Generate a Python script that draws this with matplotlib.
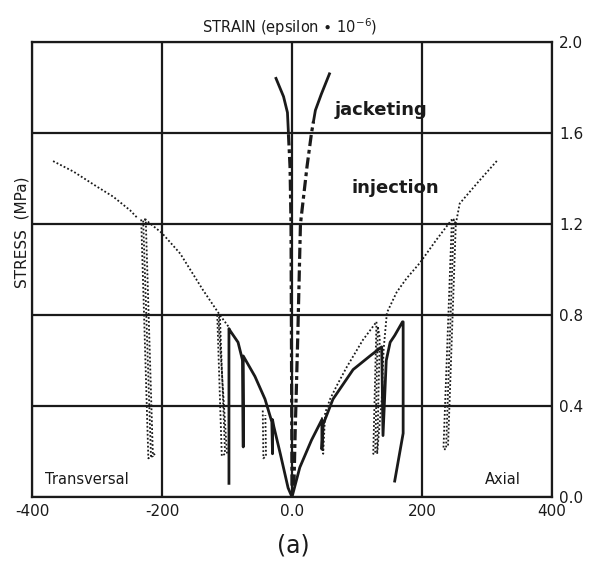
import matplotlib
matplotlib.use("Agg")
from matplotlib import pyplot as plt

# jacketing (dash-dot low part, solid top part)
jack_l_x = [0, -1, -1.5, -3, -5.5]
jack_l_y = [0.05, 0.8, 1.2, 1.45, 1.6]
jack_l_top_x = [-5.5, -7, -13, -24.6]
jack_l_top_y = [1.6, 1.69, 1.76, 1.84]
jack_r_x = [3, 5, 6, 9, 13, 17, 23, 30, 33]
jack_r_y = [0.05, 0.3, 0.4, 0.72, 1.2, 1.3, 1.45, 1.6, 1.65]
jack_r_top_x = [33, 36, 45, 57.6]
jack_r_top_y = [1.65, 1.70, 1.77, 1.86]

# solid curves with unloading loops
wall_l_x = [0, -6, -18, -28, -30, -30, -31, -41.5, -57, -75, -75, -76, -83, -95, -97, -97]
wall_l_y = [0.0, 0.04, 0.19, 0.31, 0.34, 0.19, 0.33, 0.43, 0.53, 0.62, 0.22, 0.60, 0.68, 0.73, 0.74, 0.06]
wall_r_x = [0, 12, 30, 46, 46, 48, 63, 94, 120, 138, 140, 145, 151, 158, 170, 171, 171, 158]
wall_r_y = [0.0, 0.13, 0.25, 0.34, 0.21, 0.32, 0.43, 0.56, 0.62, 0.66, 0.27, 0.60, 0.68, 0.71, 0.77, 0.77, 0.28, 0.07]

# injection, dotted
inj_l_env_x = [-98, -111, -137, -172, -200, -226]
inj_l_env_y = [0.75, 0.80, 0.91, 1.07, 1.16, 1.22]
inj_l_out_x = [-239, -249, -275, -300, -336, -370]
inj_l_out_y = [1.23, 1.26, 1.32, 1.364, 1.43, 1.48]
inj_l_loop1_x = [-232, -221, -214, -225, -229, -217, -210]
inj_l_loop1_y = [1.22, 0.17, 0.18, 1.22, 1.22, 0.18, 0.19]
inj_l_loop2_x = [-115, -108, -103, -111, -113, -100]
inj_l_loop2_y = [0.80, 0.18, 0.19, 0.80, 0.78, 0.19]
inj_l_loop3_x = [-45, -44, -40, -41]
inj_l_loop3_y = [0.38, 0.17, 0.18, 0.36]

inj_r_in_x = [46, 48, 51, 58.5, 69, 84, 109, 130]
inj_r_in_y = [0.35, 0.19, 0.37, 0.43, 0.49, 0.57, 0.69, 0.77]
inj_r_loop1_x = [130, 125, 128, 132, 135, 131]
inj_r_loop1_y = [0.77, 0.19, 0.19, 0.75, 0.70, 0.19]
inj_r_out_x = [131, 138, 141, 146, 161, 176, 197, 222, 246]
inj_r_out_y = [0.19, 0.43, 0.65, 0.81, 0.90, 0.96, 1.03, 1.13, 1.22]
inj_r_loop2_x = [246, 233, 237, 249, 252, 240]
inj_r_loop2_y = [1.22, 0.21, 0.21, 1.22, 1.20, 0.22]
inj_r_out2_x = [252, 258, 285, 316]
inj_r_out2_y = [1.20, 1.29, 1.38, 1.48]

x_ticks = [-400, -200, 0, 200, 400]
x_labels = ['-400', '-200', '0.0', '200', '400']
y_ticks = [0.0, 0.4, 0.8, 1.2, 1.6, 2.0]
y_labels = ['0.0', '0.4', '0.8', '1.2', '1.6', '2.0']

ink = '#1a1a1a'
fig = plt.figure(figsize=(5.89, 5.80), dpi=100)
ax = fig.add_axes([32 / 589, 83 / 580, 520 / 589, 455 / 580])

dashdot = (0, (3.5, 1.2, 1.2, 1.2))
ax.plot(jack_l_x, jack_l_y, ls=dashdot, color=ink, lw=2.3)
ax.plot(jack_l_top_x, jack_l_top_y, '-', color=ink, lw=2)
ax.plot(jack_r_x, jack_r_y, ls=dashdot, color=ink, lw=2.3)
ax.plot(jack_r_top_x, jack_r_top_y, '-', color=ink, lw=2)

ax.plot(wall_l_x, wall_l_y, '-', color=ink, lw=2)
ax.plot(wall_r_x, wall_r_y, '-', color=ink, lw=2)

dots = dict(ls=(0, (1, 1.2)), color=ink, lw=1.3)
for xs, ys in [(inj_l_env_x, inj_l_env_y), (inj_l_out_x, inj_l_out_y),
               (inj_l_loop1_x, inj_l_loop1_y), (inj_l_loop2_x, inj_l_loop2_y),
               (inj_l_loop3_x, inj_l_loop3_y), (inj_r_in_x, inj_r_in_y),
               (inj_r_loop1_x, inj_r_loop1_y), (inj_r_out_x, inj_r_out_y),
               (inj_r_loop2_x, inj_r_loop2_y), (inj_r_out2_x, inj_r_out2_y)]:
    ax.plot(xs, ys, **dots)

ax.set_xlim(-400, 400)
ax.set_ylim(0, 2.0)
ax.set_xticks(x_ticks)
ax.set_xticklabels(x_labels)
ax.set_yticks(y_ticks)
ax.set_yticklabels(y_labels)
ax.yaxis.tick_right()
ax.tick_params(length=0, labelsize=11, colors=ink, pad=5)
ax.grid(True, color=ink, lw=1.6)
for s in ax.spines.values():
    s.set_linewidth(1.6)
    s.set_color(ink)

ax.text(65, 1.70, 'jacketing', fontsize=13, fontweight='bold', va='center', color=ink)
ax.text(91, 1.36, 'injection', fontsize=13, fontweight='bold', va='center', color=ink)
ax.text(-380, 0.075, 'Transversal', fontsize=10.5, va='center', color=ink)
ax.text(297, 0.075, 'Axial', fontsize=10.5, va='center', color=ink)

fig.text(290 / 589, 1 - 27 / 580, r'STRAIN (epsilon $\bullet$ 10$^{-6}$)', fontsize=10.5,
         ha='center', va='center', color=ink)
fig.text(22 / 589, 1 - 232 / 580, 'STRESS  (MPa)', fontsize=11, rotation=90,
         ha='center', va='center', color=ink)
fig.text(293 / 589, 1 - 545 / 580, '(a)', fontsize=17, ha='center', va='center', color=ink)

fig.savefig('out.png', dpi=100)
